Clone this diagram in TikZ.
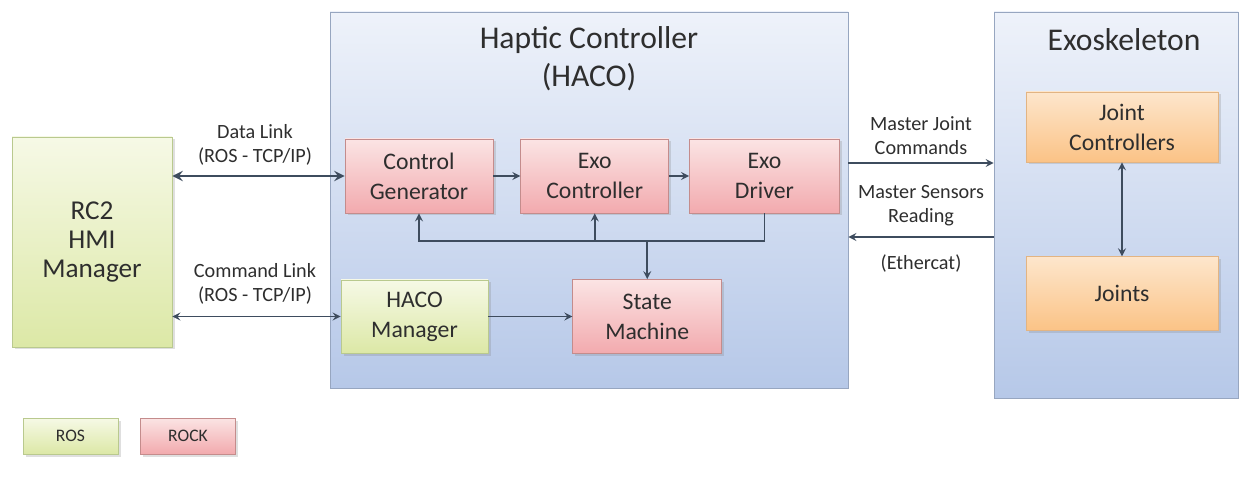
\documentclass[tikz,border=0pt]{standalone}
\usepackage{fontspec}
\setmainfont{Carlito}
\usetikzlibrary{positioning,shadows}

\definecolor{txt}{HTML}{2E2E2E}
\definecolor{arr}{HTML}{3E4C5E}
\definecolor{rocktop}{HTML}{FBE4E4}
\definecolor{rockbot}{HTML}{F2AAAE}
\definecolor{rockline}{HTML}{C48C8C}
\definecolor{rostop}{HTML}{F6F9E6}
\definecolor{rosbot}{HTML}{DCE8A6}
\definecolor{rosline}{HTML}{B9C98E}
\definecolor{exotop}{HTML}{FDE6CC}
\definecolor{exobot}{HTML}{FBC386}
\definecolor{exoline}{HTML}{E2B483}
\definecolor{grptop}{HTML}{EEF2FA}
\definecolor{grpbot}{HTML}{B6C8E8}
\definecolor{grpline}{HTML}{97A6C0}

\begin{document}
\begin{tikzpicture}[every node/.style={text=txt}]
    \tikzstyle{block} = [rectangle, align=center, minimum width=2.96cm, minimum height=1.48cm, font=\fontsize{13.5}{17}\selectfont, drop shadow={shadow xshift=0.05cm, shadow yshift=-0.05cm, opacity=0.25}]
    \tikzstyle{rock} = [block, draw=rockline, top color=rocktop, bottom color=rockbot]
    \tikzstyle{ros} = [block, draw=rosline, top color=rostop, bottom color=rosbot]
    \tikzstyle{joint} = [block, draw=exoline, top color=exotop, bottom color=exobot, minimum width=3.84cm]
    \tikzstyle{group} = [rectangle, draw=grpline, top color=grptop, bottom color=grpbot, inner sep=0pt]
    \tikzstyle{lbl} = [align=center, font=\fontsize{11.5}{13.6}\selectfont]
    \tikzstyle{arrow} = [line width=1pt, ->, >=stealth, draw=arr]

    \useasboundingbox (0,0) rectangle (25,-9.68);

    % containers
    \node[group, minimum width=10.36cm, minimum height=7.52cm] (haco) at (11.78,-4.0) {};
    \node[group, minimum width=4.88cm, minimum height=7.72cm] (exo) at (22.32,-4.1) {};
    \node[align=center, font=\fontsize{18}{21.5}\selectfont] (hacotitle) at (11.78,-1.18) {Haptic Controller\\(HACO)};
    \node[font=\fontsize{18}{21.5}\selectfont] (exotitle) at (22.48,-0.8) {Exoskeleton};

    \node[ros, minimum width=3.2cm, minimum height=4.2cm, font=\fontsize{15.5}{16.5}\selectfont] (rc2) at (1.84,-4.84) {RC2\\HMI\\Manager};

    % haco blocks
    \node[rock] (cg) at (8.38,-3.52) {Control\\Generator};
    \node[rock, right=0.54cm of cg] (ec) {Exo\\Controller};
    \node[rock, right=0.4cm of ec, minimum width=3cm] (ed) {Exo\\Driver};
    \node[ros, minimum width=2.94cm, minimum height=1.46cm] (hm) at (8.29,-6.33) {HACO\\Manager};
    \node[rock, right=1.68cm of hm, minimum width=2.98cm] (sm) {State\\Machine};

    % exoskeleton blocks
    \node[joint, minimum height=1.4cm] (jc) at (22.44,-2.54) {Joint\\Controllers};
    \node[joint, below=1.88cm of jc] (joints) {Joints};

    % legend
    \node[ros, minimum width=1.9cm, minimum height=0.72cm, font=\fontsize{10}{12}\selectfont] (legros) at (1.41,-8.72) {ROS};
    \node[rock, minimum width=1.9cm, minimum height=0.72cm, font=\fontsize{10}{12}\selectfont] (legrock) at (3.76,-8.72) {ROCK};

    \coordinate (fb) at (0,-4.82);
    \coordinate (mj) at (0,-3.26);
    \coordinate (ms) at (0,-4.74);

    \draw[arrow, <->, line width=1.6pt] (rc2.east |- cg) -- (cg.west);
    \draw[arrow, <->] (rc2.east |- hm) -- (hm.west);
    \draw[arrow] (cg) -- (ec);
    \draw[arrow] (ec) -- (ed);
    \draw[arrow] (hm) -- (sm);
    \draw[arrow] (ed.south) |- (fb -| cg.south) -- (cg.south);
    \draw[arrow] (fb -| ec.south) -- (ec.south);
    \draw[arrow] (fb -| sm.north) -- (sm.north);
    \draw[arrow] (haco.east |- mj) -- (exo.west |- mj);
    \draw[arrow] (exo.west |- ms) -- (haco.east |- ms);
    \draw[arrow, <->] (jc) -- (joints);

    \node[lbl] (datalbl) at (5.1,-2.9) {Data Link\\(ROS - TCP/IP)};
    \node[lbl] (cmdlbl) at (5.1,-5.68) {Command Link\\(ROS - TCP/IP)};
    \node[lbl] (mjlbl) at (18.42,-2.72) {Master Joint\\Commands};
    \node[lbl] (mslbl) at (18.42,-4.12) {Master Sensors\\Reading};
    \node[lbl] (ethlbl) at (18.42,-5.27) {(Ethercat)};
\end{tikzpicture}
\end{document}
